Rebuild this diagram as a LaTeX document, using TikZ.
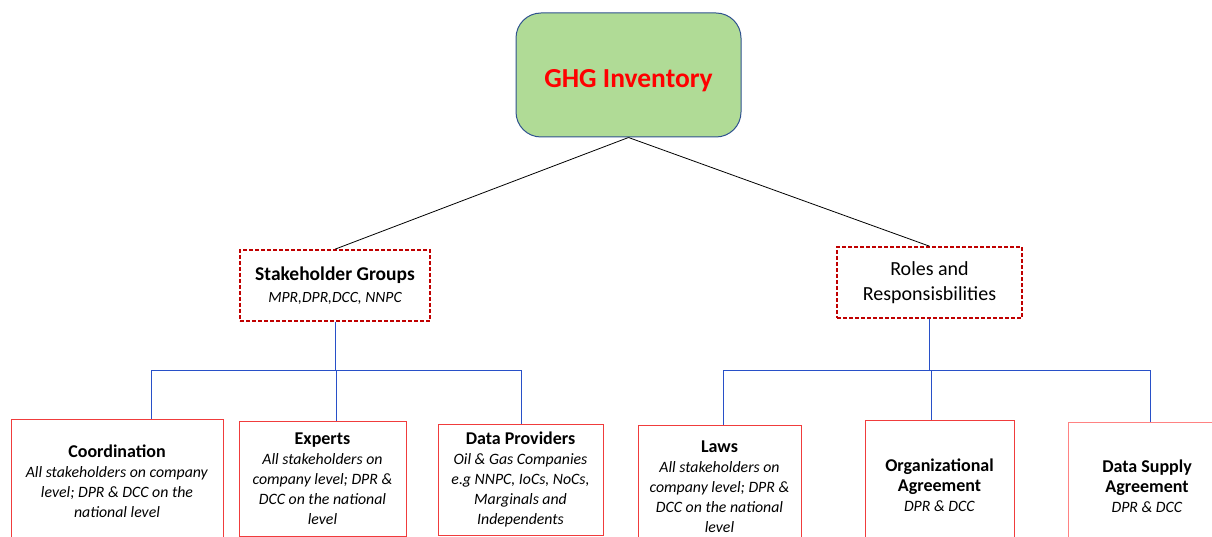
\documentclass[tikz,border=0pt]{standalone}
\usepackage{fontspec}
\setmainfont{Carlito}
\definecolor{boxgreen}{RGB}{176,219,150}
\definecolor{boxedge}{RGB}{47,82,143}
\definecolor{dashred}{RGB}{192,0,0}
\definecolor{leafred}{RGB}{240,60,60}
\definecolor{lightred}{RGB}{255,130,130}
\definecolor{barblue}{RGB}{40,80,200}
\newcommand{\ttl}[1]{{\fontsize{18}{21}\selectfont\bfseries #1}}

\begin{document}
\begin{tikzpicture}[x=1pt,y=-1pt,
  topbox/.style={draw=boxedge, fill=boxgreen, rounded corners=25pt, line width=1pt,
    minimum width=225pt, minimum height=124pt, inner sep=0pt,
    text height=31pt, text depth=6pt,
    font=\fontsize{27.5}{30}\selectfont\bfseries, text=red},
  groupbox/.style={draw=dashred, dashed, dash pattern=on 4pt off 2pt, line width=1.6pt,
    inner sep=0pt, align=center, font=\fontsize{20}{25}\selectfont},
  leafbox/.style={draw=leafred, line width=1pt, inner sep=0pt, align=center,
    font=\fontsize{15.8}{20}\selectfont},
  blueline/.style={draw=barblue, line width=1pt}]
\useasboundingbox (0,0) rectangle (1212,537);
\clip (0,0) rectangle (1212,537);

% top
\node[topbox] (ghg) at (628.5,75) {GHG Inventory};

% middle level
\node[groupbox, minimum width=190pt, minimum height=71pt] (sg) at (335,285.5)
  {{\fontsize{19.5}{22}\selectfont\bfseries Stakeholder Groups}\\[-3pt]{\fontsize{15.6}{18}\selectfont\itshape MPR,DPR,DCC, NNPC}};
\node[groupbox, minimum width=185pt, minimum height=71pt] (rr) at (929.5,282.5)
  {Roles and\\Responsisbilities};

\draw[black, line width=0.8pt] (ghg.south) -- (sg.north);
\draw[black, line width=0.8pt] (ghg.south) -- (rr.north);

% bottom level
\node[leafbox, minimum width=212pt, minimum height=124pt] (co) at (117,481)
  {\ttl{Coordination}\\\textit{All stakeholders on company}\\
   \textit{level; DPR \& DCC on the}\\\textit{national level}};
\node[leafbox, minimum width=167pt, minimum height=115pt] (ex) at (322.5,478.5)
  {\ttl{Experts}\\\textit{All stakeholders on}\\\textit{company level; DPR \&}\\
   \textit{DCC on the national}\\\textit{level}};
\node[leafbox, minimum width=165pt, minimum height=111pt] (dp) at (520.5,479.5)
  {\ttl{Data Providers}\\\textit{Oil \& Gas Companies}\\\textit{e.g NNPC, IoCs, NoCs,}\\
   \textit{Marginals and}\\\textit{Independents}};
\node[leafbox, minimum width=163pt, minimum height=124pt] (lw) at (719.5,487)
  {\ttl{Laws}\\\textit{All stakeholders on}\\\textit{company level; DPR \&}\\
   \textit{DCC on the national}\\\textit{level}};
\node[leafbox, minimum width=149pt, minimum height=130pt] (oa) at (939.5,485)
  {\ttl{Organizational}\\\ttl{Agreement}\\\textit{DPR \& DCC}};
\node[leafbox, draw=lightred, minimum width=158pt, minimum height=128pt] (ds) at (1147,486)
  {\ttl{Data Supply}\\\ttl{Agreement}\\\textit{DPR \& DCC}};

% blue connectors
\coordinate (lbarl) at (151,370);
\coordinate (lbarr) at (521,370);
\coordinate (rbarl) at (723,370);
\coordinate (rbarr) at (1150,370);
\draw[blueline] (sg.south) -- (sg.south |- lbarl);
\draw[blueline] (rr.south) -- (rr.south |- rbarl);
\draw[blueline] (lbarl) -- (lbarr);
\draw[blueline] (rbarl) -- (rbarr);
\draw[blueline] (lbarl) -- (lbarl |- co.north);
\draw[blueline] (lbarr) -- (lbarr |- dp.north);
\draw[blueline] (rbarl) -- (rbarl |- lw.north);
\draw[blueline] (rbarr) -- (rbarr |- ds.north);
\draw[blueline] (ex.north -| sg.south) ++(1,0) coordinate (exdrop) (sg.south |- lbarl) ++(1,0) -- (exdrop);
\draw[blueline] (rr.south |- rbarl) ++(1.5,0) coordinate (oadrop) -- (oadrop |- oa.north);
\end{tikzpicture}
\end{document}
